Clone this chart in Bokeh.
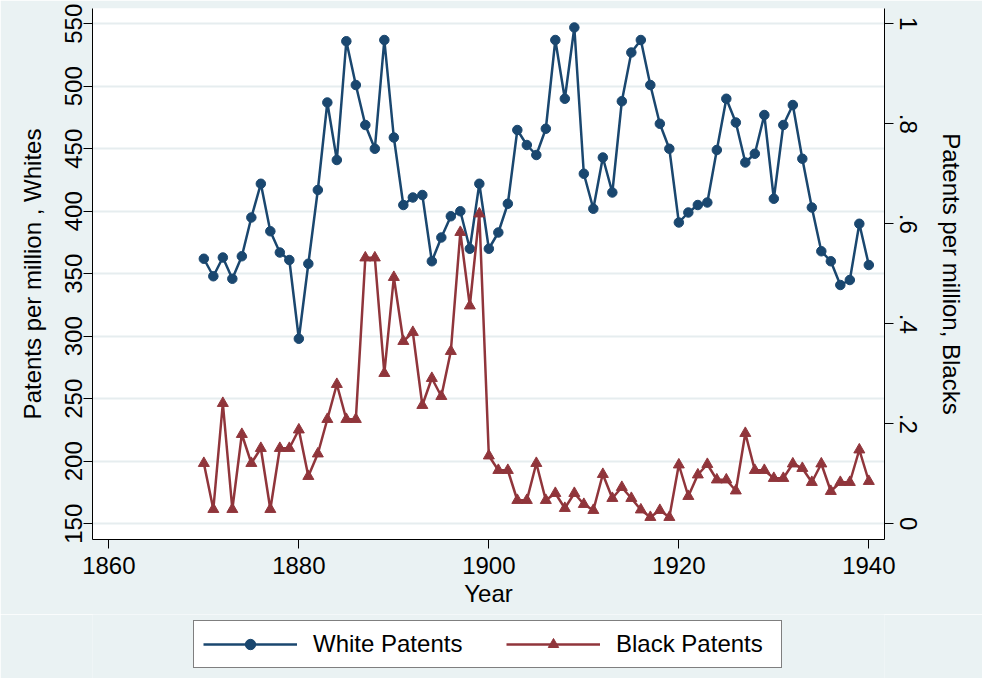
from bokeh.plotting import figure
from bokeh.layouts import column
from bokeh.models import Range1d, LinearAxis, FixedTicker, Legend, LegendItem
from bokeh.embed import file_html
from bokeh.resources import INLINE

# ---- data ----
years = list(range(1870, 1941))
white_patents = [362, 348, 363, 346, 364, 395, 422, 384, 367, 361,
                 298, 358, 417, 487, 441, 536, 501, 469, 450, 537,
                 459, 405, 411, 413, 360, 379, 396, 400, 370, 422,
                 370, 383, 406, 465, 453, 445, 466, 537, 490, 547,
                 430, 402, 443, 415, 488, 527, 537, 501, 470, 450,
                 391, 399, 405, 407, 449, 490, 471, 439, 446, 477,
                 410, 469, 485, 442, 403, 368, 360, 341, 345, 390,
                 357]
black_patents = [0.121, 0.029, 0.241, 0.029, 0.179, 0.121, 0.151, 0.029, 0.151, 0.151,
                 0.188, 0.095, 0.140, 0.209, 0.279, 0.209, 0.209, 0.532, 0.532, 0.301,
                 0.493, 0.365, 0.383, 0.237, 0.291, 0.255, 0.345, 0.583, 0.436, 0.620,
                 0.136, 0.107, 0.107, 0.047, 0.047, 0.121, 0.047, 0.061, 0.031, 0.061,
                 0.039, 0.027, 0.099, 0.051, 0.073, 0.051, 0.028, 0.013, 0.027, 0.013,
                 0.118, 0.055, 0.098, 0.119, 0.088, 0.088, 0.066, 0.181, 0.107, 0.107,
                 0.091, 0.091, 0.120, 0.111, 0.083, 0.120, 0.065, 0.083, 0.083, 0.148,
                 0.085]
x_ticks = [1860, 1880, 1900, 1920, 1940]
left_ticks = [150, 200, 250, 300, 350, 400, 450, 500, 550]
right_ticks = [0, 0.2, 0.4, 0.6, 0.8, 1.0]
right_labels = ["0", ".2", ".4", ".6", ".8", "1"]
series_names = ["White Patents", "Black Patents"]

NAVY = "#1A476F"
MAROON = "#90353B"
BG = "#EAF2F3"
FONT = "Liberation Sans"
FS = "24px"

W = 982
H_MAIN = 614
H_LEG = 64

p = figure(width=W, height=H_MAIN, output_backend="svg", toolbar_location=None,
           x_range=Range1d(1858.28, 1941.65), y_range=Range1d(137.4, 562.2),
           min_border_left=92, min_border_right=98, min_border_top=8,
           min_border_bottom=H_MAIN - 539)
p.border_fill_color = BG
p.background_fill_color = "white"
p.outline_line_color = None
p.extra_y_ranges = {"black": Range1d(-0.0315, 1.0305)}

# grid
p.xgrid.visible = False
p.ygrid.ticker = FixedTicker(ticks=left_ticks)
p.ygrid.grid_line_color = "#E6EDEF"
p.ygrid.grid_line_width = 2

def style_axis(ax):
    ax.axis_line_color = "black"
    ax.axis_line_width = 1
    ax.major_tick_line_color = "black"
    ax.major_tick_in = 0
    ax.major_tick_out = 9
    ax.minor_tick_line_color = None
    ax.major_label_text_font = FONT
    ax.major_label_text_font_size = FS
    ax.major_label_text_color = "black"
    ax.axis_label_text_font = FONT
    ax.axis_label_text_font_size = FS
    ax.axis_label_text_font_style = "normal"
    ax.axis_label_text_color = "black"

# bottom axis
xa = p.xaxis[0]
style_axis(xa)
xa.ticker = FixedTicker(ticks=x_ticks)
xa.axis_label = "Year"
xa.major_label_standoff = 8
xa.axis_label_standoff = 3

# left axis
ya = p.yaxis[0]
style_axis(ya)
ya.ticker = FixedTicker(ticks=left_ticks)
ya.axis_label = "Patents per million , Whites"
ya.major_label_orientation = "vertical"
ya.major_label_standoff = 2
ya.axis_label_standoff = 16

# right axis
ra = LinearAxis(y_range_name="black")
style_axis(ra)
ra.ticker = FixedTicker(ticks=right_ticks)
ra.major_label_overrides = {t: l for t, l in zip(right_ticks, right_labels)}
ra.axis_label = "Patents per million, Blacks"
ra.major_label_orientation = "vertical"
ra.major_label_standoff = 6
ra.axis_label_standoff = 18
p.add_layout(ra, "right")

# series
p.line(years, white_patents, line_color=NAVY, line_width=2.5)
p.scatter(years, white_patents, marker="circle", size=9.5,
          fill_color=NAVY, line_color=NAVY)
p.line(years, black_patents, line_color=MAROON, line_width=2.5,
       y_range_name="black")
p.scatter(years, black_patents, marker="triangle", size=11,
          fill_color=MAROON, line_color=MAROON, y_range_name="black")

# legend strip (separate figure so nothing is clipped); its series lie
# outside its view so only the legend shows
q = figure(width=W, height=H_LEG, output_backend="svg", toolbar_location=None,
           x_range=Range1d(0, 1), y_range=Range1d(0, 1),
           x_axis_location=None, y_axis_location=None,
           min_border_left=0, min_border_right=0, min_border_top=0,
           min_border_bottom=0)
q.grid.visible = False
q.outline_line_color = None
q.border_fill_color = BG
q.background_fill_color = BG
lw = q.line(years, white_patents, line_color=NAVY, line_width=2.5)
sw = q.scatter(years, white_patents, marker="circle", size=9.5,
               fill_color=NAVY, line_color=NAVY)
lb = q.line(years, black_patents, line_color=MAROON, line_width=2.5)
sb = q.scatter(years, black_patents, marker="triangle", size=11,
               fill_color=MAROON, line_color=MAROON)

# column() aligns this strip's frame with the main frame (left edge at 92px)
legend = Legend(items=[LegendItem(label=series_names[0], renderers=[lw, sw]),
                       LegendItem(label=series_names[1], renderers=[lb, sb])],
                location=(101, 10), orientation="horizontal")
legend.border_line_color = "black"
legend.border_line_width = 1
legend.background_fill_color = "white"
legend.background_fill_alpha = 1
legend.label_text_font = FONT
legend.label_text_font_size = FS
legend.label_text_color = "black"
legend.glyph_width = 94
legend.glyph_height = 26
legend.label_standoff = 16
legend.label_width = 156
legend.spacing = 37
legend.padding = 9
legend.margin = 0
q.add_layout(legend, "center")

layout = column(p, q, spacing=0)
open("out.html", "w").write(file_html(layout, INLINE))
